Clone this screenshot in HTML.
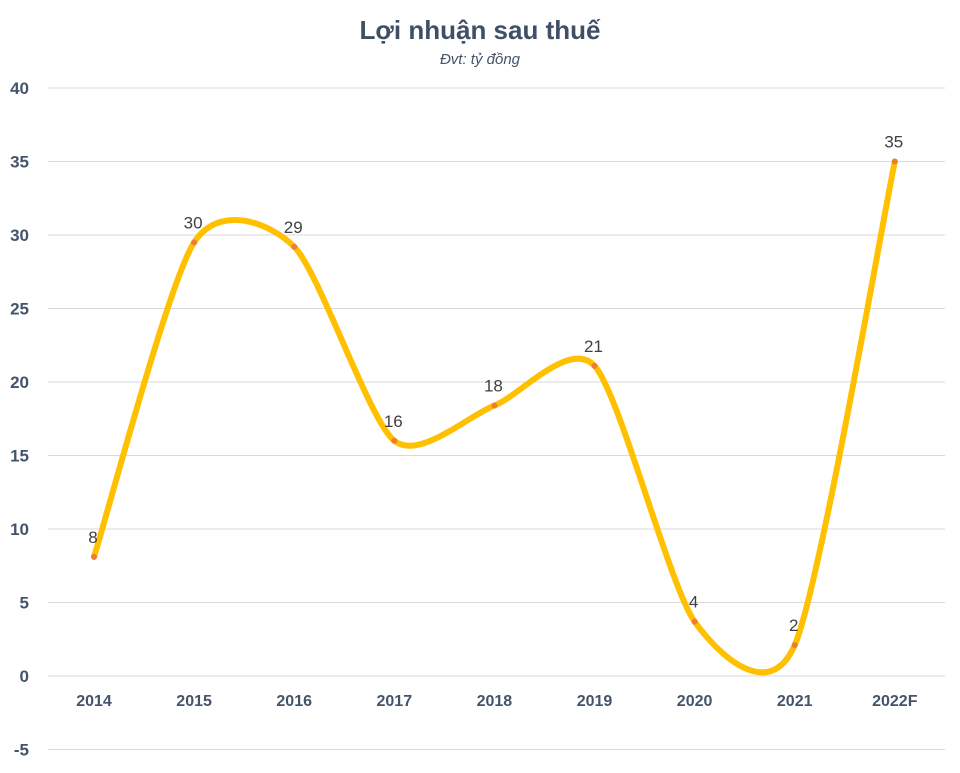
<!DOCTYPE html>
<html><head><meta charset="utf-8"><style>
body{margin:0;background:#fff;}
svg text{font-family:"Liberation Sans",Arial,sans-serif;}
</style></head><body>
<svg id="chart" width="960" height="768" xmlns="http://www.w3.org/2000/svg">
<rect width="960" height="768" fill="#fff"/>
<text x="480" y="39" text-anchor="middle" font-size="26" font-weight="bold" fill="#3f4f66">Lợi nhuận sau thuế</text>
<text x="480" y="64" text-anchor="middle" font-size="15" font-style="italic" fill="#44546a">Đvt: tỷ đồng</text>
<g id="grid"></g><g id="yticks"></g><g id="xticks"></g><g id="series"></g><g id="labels"></g>
</svg>
<script>
const categories=["2014","2015","2016","2017","2018","2019","2020","2021","2022F"];
const values=[8.1,29.5,29.2,16.0,18.4,21.1,3.7,2.1,35.0];
const valueLabels=["8","30","29","16","18","21","4","2","35"];
const yTicks=[-5,0,5,10,15,20,25,30,35,40];
const NS="http://www.w3.org/2000/svg";
function y(v){return 676-v*14.7;}
function x(i){return 94+i*100.1;}
function mk(tag,attrs,parent){const e=document.createElementNS(NS,tag);for(const k in attrs)e.setAttribute(k,attrs[k]);document.getElementById(parent).appendChild(e);return e;}
yTicks.forEach(t=>{
  const l=mk('line',{x1:48,x2:945,y1:y(t),y2:y(t),stroke:'#d9d9d9','stroke-width':1},'grid');
  
  
  const tx=mk('text',{x:29,y:y(t)+6,'text-anchor':'end','font-size':17,'font-weight':'bold',fill:'#44546a'},'yticks');
  tx.textContent=t;
  
  
});
categories.forEach((c,i)=>{
  const tx=mk('text',{x:x(i),y:706,'text-anchor':'middle','font-size':16,'font-weight':'bold',fill:'#44546a'},'xticks');
  tx.textContent=c;
  
  
});
const pts=values.map((v,i)=>[x(i),y(v)]);
let d='M'+pts[0][0]+','+pts[0][1];
const k=8;
for(let i=0;i<pts.length-1;i++){
  const p0=pts[Math.max(i-1,0)],p1=pts[i],p2=pts[i+1],p3=pts[Math.min(i+2,pts.length-1)];
  const c1=[p1[0]+(p2[0]-p0[0])/k,p1[1]+(p2[1]-p0[1])/k];
  const c2=[p2[0]-(p3[0]-p1[0])/k,p2[1]-(p3[1]-p1[1])/k];
  d+=' C'+c1+' '+c2+' '+p2;
}
const path=mk('path',{d:d,fill:'none',stroke:'#ffc000','stroke-width':6,'stroke-linecap':'round'},'series');


pts.forEach((p,i)=>{
  const c=mk('circle',{cx:p[0],cy:p[1],r:3,fill:'#ed7d31'},'series');
  
  
  const t=mk('text',{x:p[0]-1,y:p[1]-14,'text-anchor':'middle','font-size':17,fill:'#404040'},'labels');
  t.textContent=valueLabels[i];
  
  
});
</script>
</body></html>
